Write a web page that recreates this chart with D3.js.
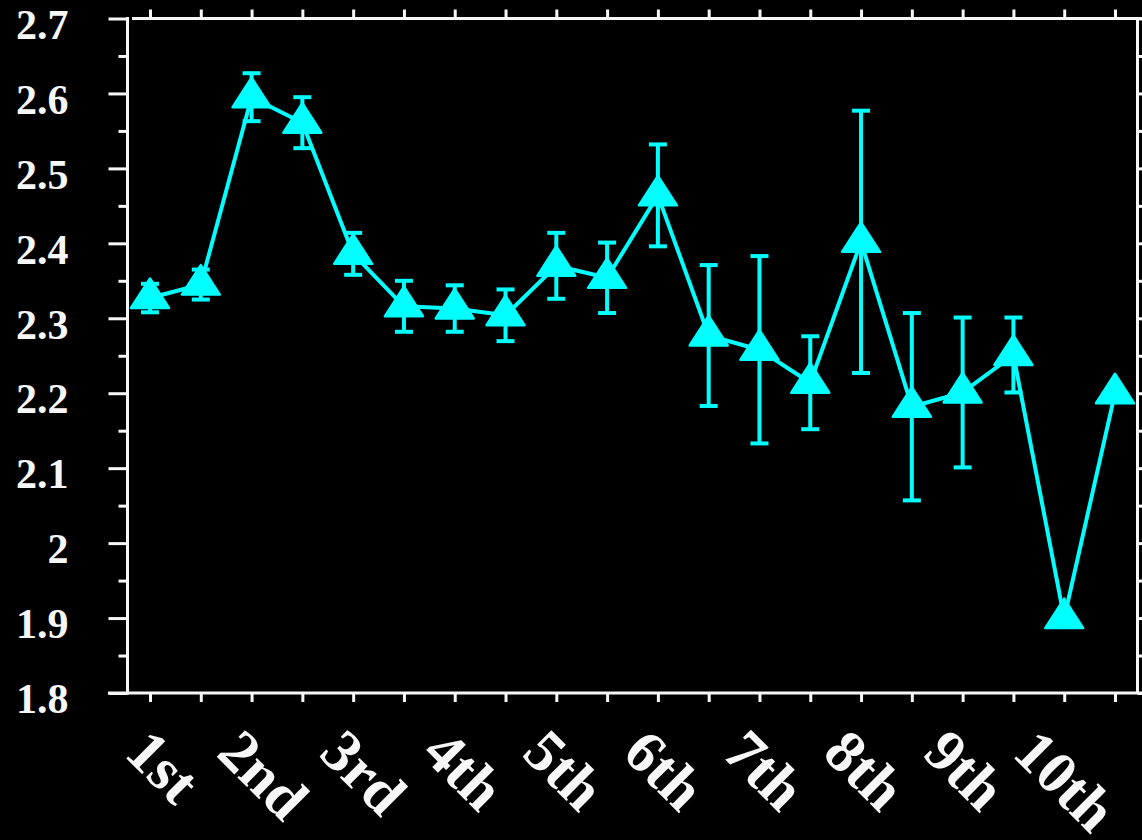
<!DOCTYPE html>
<html>
<head>
<meta charset="utf-8">
<script src="https://cdn.jsdelivr.net/npm/d3@7"></script>
<style>
  html, body { margin: 0; padding: 0; background: #000; }
  svg { display: block; }
</style>
</head>
<body>
<svg id="chart" width="1142" height="840"></svg>
<script>
// Measurement points (half-step positions between ordinal labels)
const positions = d3.range(20);
const means  = [2.327, 2.345, 2.595, 2.561, 2.386, 2.316, 2.313, 2.304, 2.370, 2.354,
                2.464, 2.277, 2.258, 2.214, 2.402, 2.182, 2.201, 2.251, 1.900, 2.200];
const errors = [0.019, 0.020, 0.032, 0.034, 0.028, 0.034, 0.031, 0.0345, 0.044, 0.047,
                0.068, 0.094, 0.125, 0.062, 0.175, 0.125, 0.100, 0.050, 0, 0];
const xLabels = ["1st", "2nd", "3rd", "4th", "5th", "6th", "7th", "8th", "9th", "10th"];
const yTicks  = [1.8, 1.9, 2.0, 2.1, 2.2, 2.3, 2.4, 2.5, 2.6, 2.7];
const yMinor  = [1.85, 1.95, 2.05, 2.15, 2.25, 2.35, 2.45, 2.55, 2.65];

const W = 1142, H = 840;
const frame = { left: 127.5, right: 1137.5, top: 18.5, bottom: 693 };
const ink = "#f7f7f7";
const cyan = "#00ffff";
const serif = "'Liberation Serif', 'Times New Roman', serif";

const svg = d3.select("#chart");
svg.append("rect").attr("width", W).attr("height", H).attr("fill", "#000");

const x = d3.scalePoint()
  .domain(positions)
  .range([frame.left, frame.right])
  .padding(0.443);

const y = d3.scaleLinear()
  .domain([1.8, 2.7])
  .range([frame.bottom, frame.top]);

// ---- axes ----
function styleAxis(g) {
  g.select(".domain").remove();
  g.selectAll(".tick line").attr("stroke", ink).attr("stroke-width", 3);
}

// left: major ticks with labels
svg.append("g")
  .attr("transform", `translate(${frame.left},0)`)
  .call(d3.axisLeft(y).tickValues(yTicks).tickSize(19).tickPadding(40)
        .tickFormat(d3.format("~g")))
  .call(styleAxis)
  .call(g => g.selectAll(".tick text")
    .attr("fill", ink)
    .attr("font-family", serif)
    .attr("font-weight", "bold")
    .attr("font-size", 42)
    .attr("dy", "0.47em"));

// left: minor ticks
svg.append("g")
  .attr("transform", `translate(${frame.left},0)`)
  .call(d3.axisLeft(y).tickValues(yMinor).tickSize(9).tickFormat(""))
  .call(styleAxis);

// right: ticks every 0.05, pointing outward
svg.append("g")
  .attr("transform", `translate(${frame.right},0)`)
  .call(d3.axisRight(y).tickValues(yTicks.concat(yMinor)).tickSize(9).tickFormat(""))
  .call(styleAxis);

// top and bottom ticks at every measurement position
svg.append("g")
  .attr("transform", `translate(0,${frame.top})`)
  .call(d3.axisTop(x).tickSize(9).tickFormat(""))
  .call(styleAxis);

svg.append("g")
  .attr("transform", `translate(0,${frame.bottom})`)
  .call(d3.axisBottom(x).tickSize(9).tickFormat(""))
  .call(styleAxis);

// frame lines
const frameLines = [
  [frame.left, frame.top - 1.5, frame.left, frame.bottom + 1.5],
  [108, frame.bottom, W, frame.bottom],
  [frame.left + 4.5, frame.top, W, frame.top],
  [frame.right, frame.top, frame.right, frame.bottom]
];
svg.append("g").selectAll("line").data(frameLines).join("line")
  .attr("x1", d => d[0]).attr("y1", d => d[1])
  .attr("x2", d => d[2]).attr("y2", d => d[3])
  .attr("stroke", ink).attr("stroke-width", 3);

// rotated ordinal labels
const xl = d3.scalePoint().domain(xLabels).range([151, 1053]);
const labelG = svg.append("g");
labelG.selectAll("text").data(xLabels).join("text")
  .attr("fill", ink)
  .attr("font-family", serif)
  .attr("font-weight", "bold")
  .attr("font-size", 60)
  .text(d => d)
  .each(function(d) {
    const L = this.getComputedTextLength();
    const sx = xl(d) - L * Math.SQRT1_2 / 2 - 2;
    d3.select(this).attr("transform", `translate(${sx},755) rotate(45)`);
  });

// ---- data ----
const pts = positions.map(i => ({ i, m: means[i], e: errors[i] }));

svg.append("path")
  .datum(pts)
  .attr("fill", "none")
  .attr("stroke", cyan)
  .attr("stroke-width", 4)
  .attr("stroke-linejoin", "round")
  .attr("d", d3.line().x(d => x(d.i)).y(d => y(d.m)));

const bars = svg.append("g")
  .selectAll("g")
  .data(pts.filter(d => d.e > 0))
  .join("g")
  .attr("stroke", cyan)
  .attr("stroke-width", 4);

bars.append("line")
  .attr("x1", d => x(d.i)).attr("x2", d => x(d.i))
  .attr("y1", d => y(d.m + d.e)).attr("y2", d => y(d.m - d.e));
bars.append("line")
  .attr("x1", d => x(d.i) - 9).attr("x2", d => x(d.i) + 9)
  .attr("y1", d => y(d.m + d.e)).attr("y2", d => y(d.m + d.e));
bars.append("line")
  .attr("x1", d => x(d.i) - 9).attr("x2", d => x(d.i) + 9)
  .attr("y1", d => y(d.m - d.e)).attr("y2", d => y(d.m - d.e));

// triangle markers, centred on their centroid
const tri = "M0,-19.5L19,10L-19,10Z";
svg.append("g")
  .selectAll("path")
  .data(pts)
  .join("path")
  .attr("d", tri)
  .attr("transform", d => `translate(${x(d.i)},${y(d.m)})`)
  .attr("fill", cyan)
  .attr("stroke", cyan)
  .attr("stroke-width", 2.5)
  .attr("stroke-linejoin", "round");
</script>
</body>
</html>
